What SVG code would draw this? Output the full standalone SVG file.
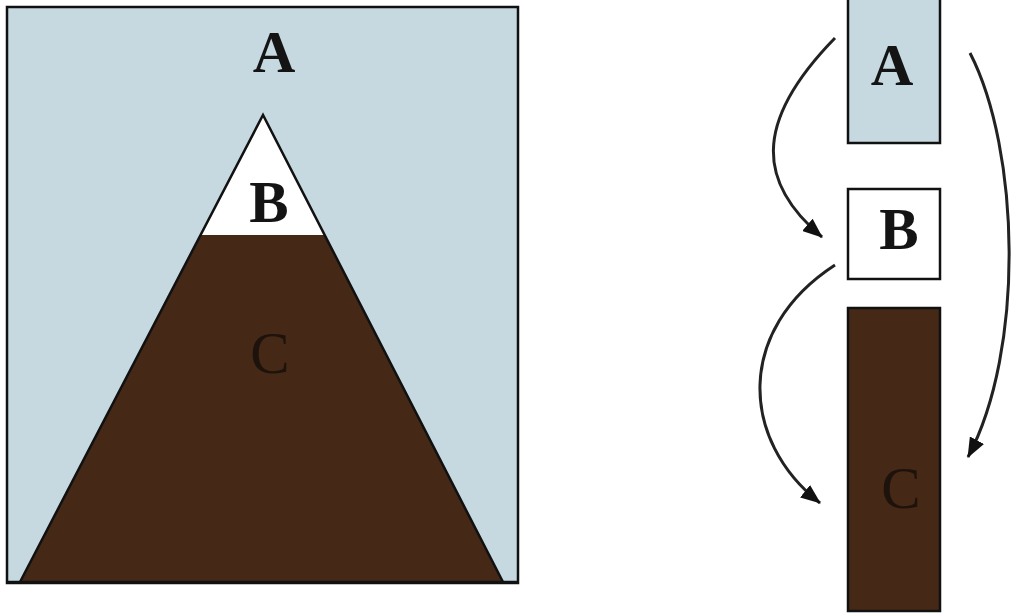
<svg xmlns="http://www.w3.org/2000/svg" width="1013" height="614" viewBox="0 0 1013 614">
  <style>
    .lbl { font-family: "Liberation Serif", "Times New Roman", serif; font-size: 59px; font-weight: bold; text-anchor: middle; fill: #141414; }
    .dark { fill: #1e130c; font-weight: normal; }
    .sky { fill: #c6d9e1; }
    .rock { fill: #452816; }
    .edge { stroke: #111; stroke-width: 2.5; }
    .conn { fill: none; stroke: #222; stroke-width: 3; }
  </style>
  <defs>
    <marker id="arrow" viewBox="0 0 20 16" refX="19" refY="8" markerWidth="20" markerHeight="16" markerUnits="userSpaceOnUse" orient="auto">
      <path d="M0,0 L20,8 L0,16 z" fill="#111"/>
    </marker>
  </defs>
  <rect width="1013" height="614" fill="#ffffff"/>

  <g id="mountain">
    <rect x="7" y="7" width="511" height="576" class="sky edge"/>
    <polygon points="263,115 201,235 325,235" fill="#ffffff"/>
    <polygon points="201,235 325,235 503,582 20,582" class="rock"/>
    <polyline points="20,582 263,115 503,582" fill="none" class="edge"/>
    <line x1="7" y1="582" x2="518" y2="582" class="edge"/>
    <text x="274" y="72" class="lbl">A</text>
    <text x="269" y="222" class="lbl">B</text>
    <text x="270" y="373" class="lbl dark">C</text>
  </g>

  <g id="nodeA">
    <rect x="848" y="-2" width="92" height="145" class="sky edge"/>
    <text x="892" y="85" class="lbl">A</text>
  </g>
  <g id="nodeB">
    <rect x="848" y="189" width="92" height="90" fill="#ffffff" class="edge"/>
    <text x="899" y="249" class="lbl">B</text>
  </g>
  <g id="nodeC">
    <rect x="848" y="308" width="92" height="303" class="rock edge"/>
    <text x="901" y="508" class="lbl dark">C</text>
  </g>

  <g id="connectors">
    <path d="M835,38 C750,125 760,185 822,237" class="conn" marker-end="url(#arrow)"/>
    <path d="M835,265 C735,330 740,440 820,503" class="conn" marker-end="url(#arrow)"/>
    <path d="M970,53 C1020,150 1025,350 968,457" class="conn" marker-end="url(#arrow)"/>
  </g>
</svg>
